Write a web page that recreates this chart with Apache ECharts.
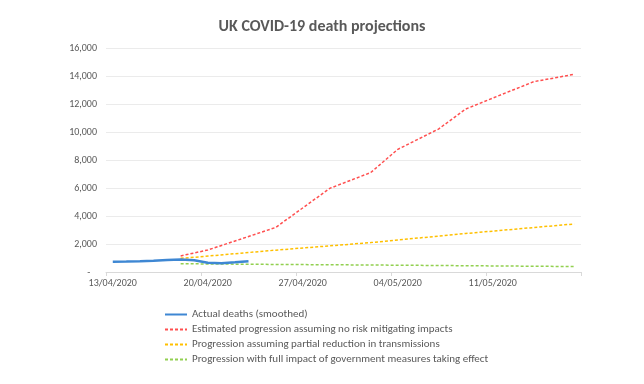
<!DOCTYPE html>
<html>
<head>
<meta charset="utf-8">
<script src="https://cdn.jsdelivr.net/npm/echarts@6/dist/echarts.min.js"></script>
<style>html,body{margin:0;padding:0;background:#fff}#c{width:644px;height:384px}</style>
</head>
<body>
<div id="c"></div>
<script>
// Data (day index from 13/04/2020)
const tickLabels = ['13/04/2020', '20/04/2020', '27/04/2020', '04/05/2020', '11/05/2020'];
const seriesNames = [
  'Actual deaths (smoothed)',
  'Estimated progression assuming no risk mitigating impacts',
  'Progression assuming partial reduction in transmissions',
  'Progression with full impact of government measures taking effect'
];
const actualDays = [0, 1, 2, 3, 4, 5, 6, 7, 8, 9, 10];
const actualValues = [740, 755, 775, 810, 850, 890, 840, 660, 625, 690, 760];
const noMitigationDays = [5, 7, 12, 16, 19, 21, 24, 26, 31, 34];
const noMitigationValues = [1150, 1570, 3180, 5980, 7100, 8760, 10210, 11640, 13590, 14120];
const partialDays = [5, 6, 12, 19, 26, 34];
const partialValues = [980, 1050, 1560, 2100, 2750, 3430];
const fullDays = [5, 12, 19, 26, 34];
const fullValues = [590, 540, 500, 450, 390];

const pair = (days, vals) => days.map((d, i) => [d + 0.5, vals[i]]);
const font = "Carlito, 'Liberation Sans Narrow', Lato, sans-serif";

const chart = echarts.init(document.getElementById('c'));
chart.setOption({
  animation: false,
  title: {
    text: 'UK COVID-19 death projections',
    left: 'center', top: 14,
    textStyle: { fontFamily: font, fontSize: 16, fontWeight: 'bold', color: '#595959' }
  },
  legend: {
    orient: 'vertical', left: 159, top: 304,
    itemWidth: 22, itemHeight: 8, itemGap: 4,
    itemStyle: { opacity: 0 },
    textStyle: { fontFamily: font, fontSize: 11, color: '#595959' },
    data: seriesNames
  },
  grid: { left: 106, right: 63, top: 48, bottom: 112 },
  xAxis: {
    type: 'value', min: 0, max: 35, interval: 7,
    axisLine: { show: true, lineStyle: { color: '#D9D9D9' } },
    axisTick: { show: true, length: 4, inside: false, lineStyle: { color: '#D9D9D9' } },
    splitLine: { show: false },
    axisLabel: {
      fontFamily: font, fontSize: 10, color: '#595959', margin: 6,
      padding: [0, 0, 0, 13.5],
      formatter: v => tickLabels[Math.round(v / 7)] || ''
    }
  },
  yAxis: {
    type: 'value', min: 0, max: 16000, interval: 2000,
    axisLine: { show: false }, axisTick: { show: false },
    splitLine: { lineStyle: { color: '#EBEBEB', width: 1 } },
    axisLabel: {
      fontFamily: font, fontSize: 10, color: '#595959', margin: 9,
      formatter: v => v === 0 ? '-   ' : v.toLocaleString('en-GB')
    }
  },
  series: [
    { name: seriesNames[0], type: 'line', symbol: 'none', data: pair(actualDays, actualValues),
      lineStyle: { color: '#3E87D3', width: 2.5 }, itemStyle: { color: '#3E87D3' }, z: 5 },
    { name: seriesNames[1], type: 'line', symbol: 'none', data: pair(noMitigationDays, noMitigationValues),
      lineStyle: { color: '#FF4F4F', width: 1.5, type: [3, 2] }, itemStyle: { color: '#FF4F4F' } },
    { name: seriesNames[2], type: 'line', symbol: 'none', data: pair(partialDays, partialValues),
      lineStyle: { color: '#FFC000', width: 1.5, type: [3, 2] }, itemStyle: { color: '#FFC000' } },
    { name: seriesNames[3], type: 'line', symbol: 'none', data: pair(fullDays, fullValues),
      lineStyle: { color: '#92D050', width: 1.5, type: [3, 2] }, itemStyle: { color: '#92D050' } }
  ]
});
</script>
</body>
</html>
